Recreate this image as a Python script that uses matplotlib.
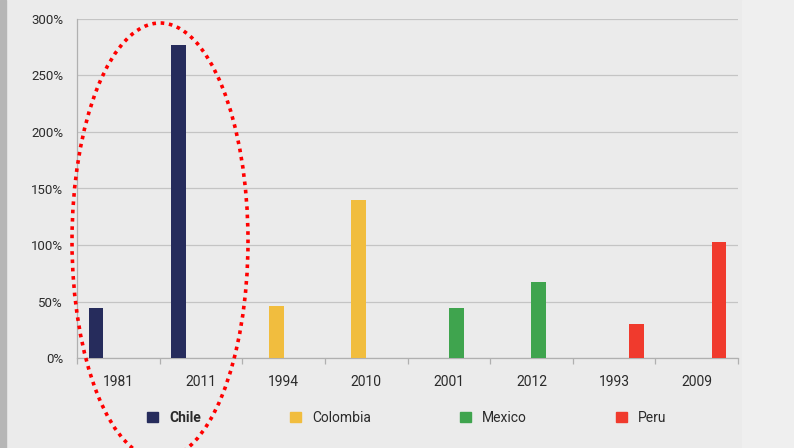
import matplotlib
matplotlib.use("Agg")
import matplotlib.pyplot as plt
import numpy as np
from matplotlib.patches import Ellipse, Patch, Rectangle

# data
years = ["1981", "2011", "1994", "2010", "2001", "2012", "1993", "2009"]
countries = ["Chile", "Colombia", "Mexico", "Peru"]
chile = [44, 277]
colombia = [46, 140]
mexico = [44, 67]
peru = [30, 103]
series = [chile, colombia, mexico, peru]
colors = ["#262c5c", "#f1bd3e", "#3fa44e", "#f03a2d"]
yticks = [0, 50, 100, 150, 200, 250, 300]

plt.rcParams["font.family"] = ["Roboto", "DejaVu Sans"]
bg = "#ebebeb"
txt = "#2b2b2b"

fig = plt.figure(figsize=(7.94, 4.48), dpi=100, facecolor=bg)
# scanned page edges
fig.patches.append(Rectangle((0, 0), 6 / 794, 1, transform=fig.transFigure,
                             color="#b6b6b6", zorder=0))
fig.patches.append(Rectangle((742 / 794, 0), 52 / 794, 1, transform=fig.transFigure,
                             color="#efefef", zorder=0))

ax = fig.add_axes([77 / 794, 1 - 358 / 448, 661 / 794, 339 / 448])
ax.set_facecolor("none")

width = 0.18
x = np.arange(len(years))
for j, (name, vals) in enumerate(zip(countries, series)):
    pos = x[2 * j:2 * j + 2] + (j - 1.5) * width
    ax.bar(pos, vals, width=width, color=colors[j], zorder=3)

ax.set_xlim(-0.5, len(years) - 0.5)
ax.set_ylim(0, 300)
ax.set_yticks(yticks)
ax.set_yticklabels([f"{v}%" for v in yticks])
ax.set_xticks(x)
ax.set_xticklabels(years)
ax.set_xticks(np.arange(-0.5, len(years)), minor=True)

ax.grid(axis="y", color="#c4c4c4", linewidth=0.9, zorder=0)
for side in ["top", "right"]:
    ax.spines[side].set_visible(False)
for side in ["left", "bottom"]:
    ax.spines[side].set_color("#b0b0b0")
    ax.spines[side].set_linewidth(0.9)

ax.tick_params(axis="y", length=0, pad=10, labelsize=9.5, labelcolor=txt)
ax.tick_params(axis="x", which="major", length=0, pad=12, labelsize=10, labelcolor=txt)
ax.tick_params(axis="x", which="minor", length=4, color="#b0b0b0", width=0.9)

handles = [Patch(color=c, label=n) for c, n in zip(colors, countries)]
leg = fig.legend(handles=handles, loc="center", bbox_to_anchor=(0.512, 1 - 418 / 448),
                 ncol=4, frameon=False, fontsize=10, handlelength=0.8, handleheight=0.8,
                 handletextpad=0.8, columnspacing=6.4)
for t in leg.get_texts():
    t.set_color(txt)
leg.get_texts()[0].set_fontweight("bold")

# red dotted ellipse around the Chile bars
fig.patches.append(Ellipse((160 / 794, 1 - 241 / 448), 176 / 794, 436 / 448,
                           transform=fig.transFigure, fill=False, edgecolor="red",
                           linewidth=2.6, linestyle=(0, (1, 1.3)), zorder=10))

fig.savefig("out.png", dpi=100, facecolor=bg)
